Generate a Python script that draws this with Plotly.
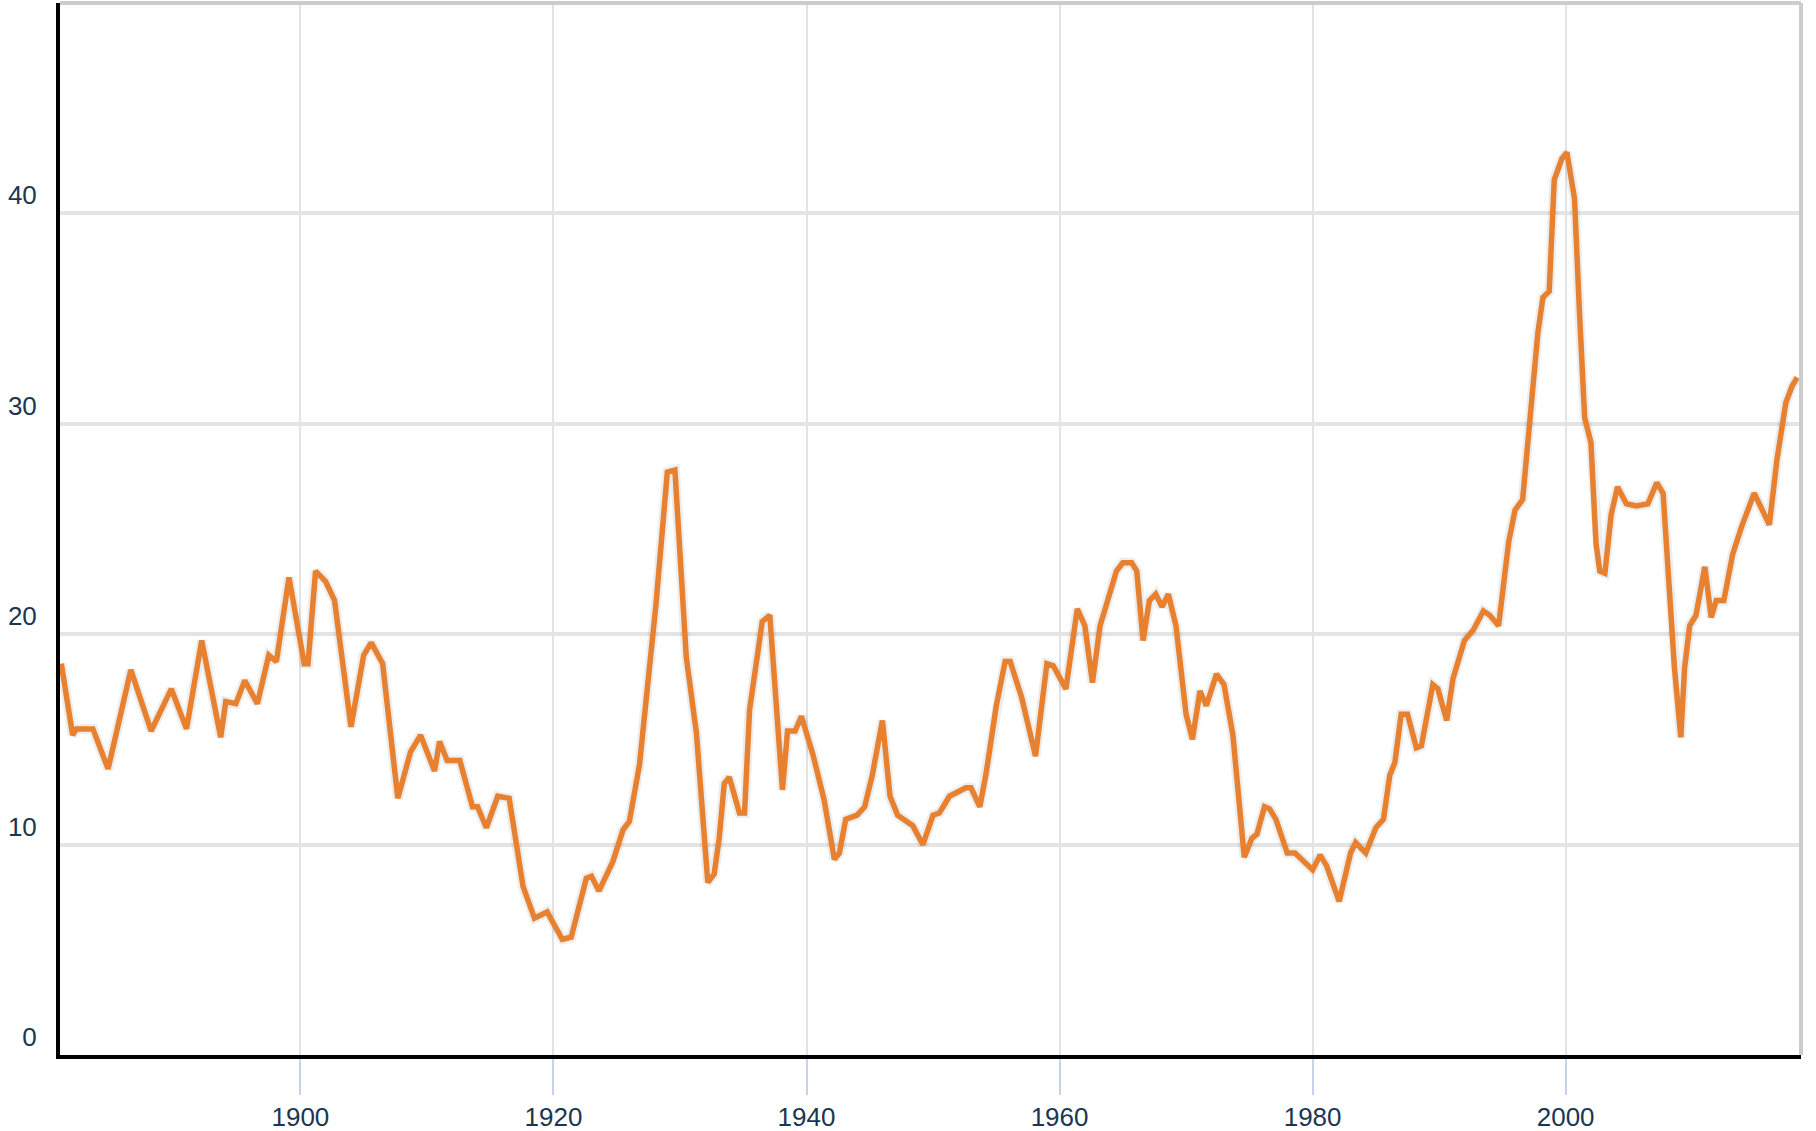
import plotly.graph_objects as go

# Decimal years and CAPE-like ratio values
years = [1881.1, 1882.0, 1882.3, 1883.6, 1884.8, 1886.6, 1888.2, 1889.8, 1891.0, 1892.2,
         1893.7, 1894.1, 1894.9, 1895.6, 1896.6, 1897.5, 1898.1, 1899.1, 1900.3, 1900.6,
         1901.2, 1902.0, 1902.7, 1904.0, 1905.0, 1905.6, 1906.5, 1907.7, 1908.7, 1909.5,
         1910.6, 1911.0, 1911.6, 1912.6, 1913.6, 1914.0, 1914.7, 1915.6, 1916.5, 1917.6,
         1918.5, 1919.5, 1920.7, 1921.4, 1922.6, 1923.0, 1923.6, 1924.7, 1925.5, 1926.0,
         1926.8, 1927.6, 1928.1, 1929.0, 1929.6, 1930.5, 1931.3, 1932.2, 1932.7, 1933.1,
         1933.5, 1933.9, 1934.7, 1935.1, 1935.5, 1936.5, 1937.1, 1938.1, 1938.5, 1939.1,
         1939.6, 1940.5, 1941.4, 1942.2, 1942.6, 1943.1, 1944.0, 1944.6, 1945.2, 1946.0,
         1946.6, 1947.2, 1948.4, 1949.2, 1950.0, 1950.5, 1951.3, 1952.6, 1953.0, 1953.7,
         1954.2, 1955.0, 1955.7, 1956.1, 1957.0, 1958.1, 1959.0, 1959.5, 1960.5, 1961.4,
         1962.0, 1962.6, 1963.2, 1963.7, 1964.5, 1965.0, 1965.7, 1966.1, 1966.6, 1967.1,
         1967.6, 1968.1, 1968.6, 1969.2, 1970.0, 1970.5, 1971.1, 1971.6, 1972.4, 1973.0,
         1973.7, 1974.6, 1975.2, 1975.6, 1976.2, 1976.6, 1977.1, 1978.0, 1978.6, 1980.0,
         1980.6, 1981.1, 1982.1, 1983.0, 1983.4, 1984.2, 1985.0, 1985.6, 1986.1, 1986.5,
         1987.0, 1987.5, 1988.2, 1988.6, 1989.5, 1989.9, 1990.6, 1991.1, 1992.0, 1992.7,
         1993.5, 1994.0, 1994.7, 1995.5, 1996.0, 1996.6, 1997.2, 1997.8, 1998.2, 1998.7,
         1999.1, 1999.7, 2000.1, 2000.7, 2001.1, 2001.5, 2002.0, 2002.4, 2002.7, 2003.1,
         2003.6, 2004.1, 2004.8, 2005.6, 2006.5, 2007.2, 2007.7, 2008.2, 2008.6, 2009.1,
         2009.4, 2009.8, 2010.3, 2011.0, 2011.5, 2011.9, 2012.5, 2013.2, 2013.9, 2014.9,
         2015.4, 2016.1, 2016.7, 2017.4, 2017.9, 2018.3]

values = [18.6, 15.2, 15.5, 15.5, 13.6, 18.3, 15.4, 17.4, 15.5, 19.7,
          15.1, 16.8, 16.7, 17.8, 16.7, 19.0, 18.7, 22.7, 18.6, 18.6,
          23.0, 22.5, 21.6, 15.6, 19.0, 19.6, 18.6, 12.2, 14.4, 15.2,
          13.5, 14.9, 14.0, 14.0, 11.8, 11.8, 10.8, 12.3, 12.2, 8.0,
          6.5, 6.8, 5.5, 5.6, 8.4, 8.5, 7.8, 9.2, 10.7, 11.1,
          13.8, 18.2, 21.4, 27.7, 27.8, 18.9, 15.3, 8.2, 8.6, 10.3,
          12.9, 13.2, 11.5, 11.5, 16.4, 20.6, 20.9, 12.6, 15.4, 15.4,
          16.1, 14.3, 12.1, 9.3, 9.6, 11.2, 11.4, 11.8, 13.3, 15.9,
          12.3, 11.4, 10.9, 10.0, 11.4, 11.5, 12.3, 12.7, 12.7, 11.8,
          13.4, 16.6, 18.7, 18.7, 17.0, 14.2, 18.6, 18.5, 17.4, 21.2,
          20.4, 17.7, 20.4, 21.4, 23.0, 23.4, 23.4, 23.0, 19.7, 21.6,
          21.9, 21.3, 21.9, 20.4, 16.2, 15.0, 17.3, 16.6, 18.1, 17.6,
          15.2, 9.4, 10.3, 10.5, 11.8, 11.7, 11.2, 9.6, 9.6, 8.8,
          9.5, 9.0, 7.3, 9.6, 10.1, 9.6, 10.8, 11.2, 13.3, 13.9,
          16.2, 16.2, 14.6, 14.7, 17.6, 17.4, 15.9, 17.9, 19.7, 20.2,
          21.1, 20.9, 20.4, 24.4, 25.9, 26.4, 30.7, 34.3, 36.0, 36.3,
          41.6, 42.6, 42.9, 40.7, 35.2, 30.3, 29.1, 24.3, 23.0, 22.9,
          25.7, 27.0, 26.2, 26.1, 26.2, 27.2, 26.7, 22.4, 18.4, 15.1,
          18.4, 20.4, 20.9, 23.2, 20.8, 21.6, 21.6, 23.8, 25.1, 26.7,
          26.1, 25.2, 28.3, 31.0, 31.8, 32.2]

x_ticks = [1900, 1920, 1940, 1960, 1980, 2000]
x_labels = ["1900", "1920", "1940", "1960", "1980", "2000"]
y_ticks = [0, 10, 20, 30, 40]
y_labels = ["0", "10", "20", "30", "40"]

LINE_COLOR = "#e8812f"
LABEL_FONT = dict(family="Liberation Sans Narrow, Liberation Sans, Arial, sans-serif",
                  size=26, color="#1b3652")

fig = go.Figure()
fig.add_trace(go.Scatter(x=years, y=values, mode="lines",
                         line=dict(color="rgba(0,0,0,0.07)", width=10),
                         hoverinfo="skip", showlegend=False))
fig.add_trace(go.Scatter(x=years, y=values, mode="lines",
                         line=dict(color=LINE_COLOR, width=5.5),
                         showlegend=False))

fig.update_layout(
    width=1816, height=1131,
    margin=dict(l=60, r=15, t=3, b=76),
    paper_bgcolor="white", plot_bgcolor="white",
    showlegend=False,
    xaxis=dict(range=[1881.0, 2018.6], tickvals=x_ticks, ticktext=x_labels,
               showgrid=True, gridcolor="#e3e3e6", gridwidth=2,
               showline=True, linecolor="black", linewidth=4,
               ticks="outside", ticklen=36, tickwidth=2, tickcolor="#c6d2e8",
               tickfont=LABEL_FONT, zeroline=False, fixedrange=True,
               automargin=False),
    yaxis=dict(range=[0, 50], tickvals=y_ticks, ticktext=y_labels,
               showgrid=True, gridcolor="#e4e4e4", gridwidth=4,
               showline=True, linecolor="black", linewidth=4,
               ticks="", ticklabelposition="outside top", ticklabelstandoff=14,
               tickfont=LABEL_FONT, zeroline=False, fixedrange=True,
               automargin=False),
    shapes=[
        dict(type="line", xref="paper", yref="paper", x0=0, x1=1, y0=1, y1=1,
             line=dict(color="#cccccc", width=4), layer="above"),
        dict(type="line", xref="paper", yref="paper", x0=1, x1=1, y0=0, y1=1,
             line=dict(color="#cccccc", width=4), layer="above"),
    ],
)

fig.write_html("out.html", config={"displayModeBar": False},
               post_script="document.body.style.margin='0';document.body.style.overflow='hidden';")
